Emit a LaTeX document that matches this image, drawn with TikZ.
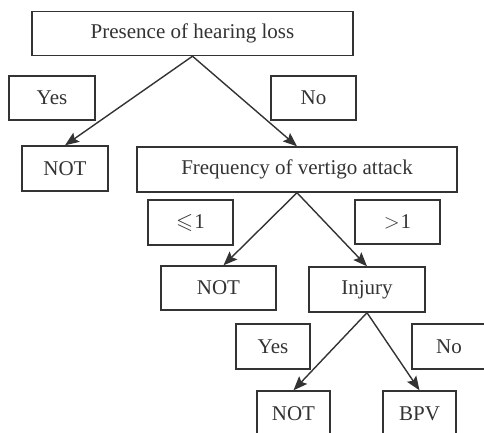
\documentclass[tikz,border=0pt]{standalone}
\usepackage{amssymb}
\usepackage{fontspec}
\setmainfont{Liberation Serif}
\usetikzlibrary{arrows.meta}
\definecolor{ink}{HTML}{333333}
\begin{document}
\begin{tikzpicture}[x=1pt,y=-1pt,
  box/.style={draw=ink,line width=1.4pt,text=ink,inner sep=0pt,minimum height=44pt,
    font=\fontsize{21}{25}\selectfont},
  arr/.style={draw=ink,line width=1.4pt,-{Stealth[length=14pt,width=11pt,inset=2.5pt]}}]
\useasboundingbox (0,0) rectangle (484,432);
\clip (0,0) rectangle (484,432);
\node[box,minimum width=321pt] (top) at (192.5,33.5) {Presence of hearing loss};
\node[box,minimum width=86pt] (yes1) at (52,98) {Yes};
\node[box,minimum width=85pt] (no1) at (313.5,98) {No};
\node[box,minimum width=86pt,minimum height=45pt] (not1) at (65,168.5) {NOT};
\node[box,minimum width=320pt,minimum height=45pt] (freq) at (297,169.5) {Frequency of vertigo attack};
\node[box,minimum width=85pt,minimum height=45pt] (le1) at (190.5,222.5) {{\fontsize{22}{26}\selectfont$\leqslant$}\kern1pt1};
\node[box,minimum width=85pt] (gt1) at (397.5,222) {$>$\kern1pt1};
\node[box,minimum width=115pt] (not2) at (218.5,288) {NOT};
\node[box,minimum width=116pt,minimum height=45pt] (inj) at (367,289.5) {Injury};
\node[box,minimum width=74pt,minimum height=45pt] (yes2) at (273,346.5) {Yes};
\node[box,minimum width=74pt,minimum height=45pt] (no2) at (449,346.5) {No};
\node[box,minimum width=73pt,minimum height=45pt] (not3) at (293.5,413.5) {NOT};
\node[box,minimum width=73pt,minimum height=45pt] (bpv) at (419.5,413.5) {BPV};
\draw[arr] (top.south) -- (not1.north);
\draw[arr] (top.south) -- (freq.north);
\draw[arr] (freq.south) -- ([xshift=5pt]not2.north);
\draw[arr] (freq.south) -- (inj.north);
\draw[arr] (inj.south) -- (not3.north);
\draw[arr] (inj.south) -- (bpv.north);
\end{tikzpicture}
\end{document}
